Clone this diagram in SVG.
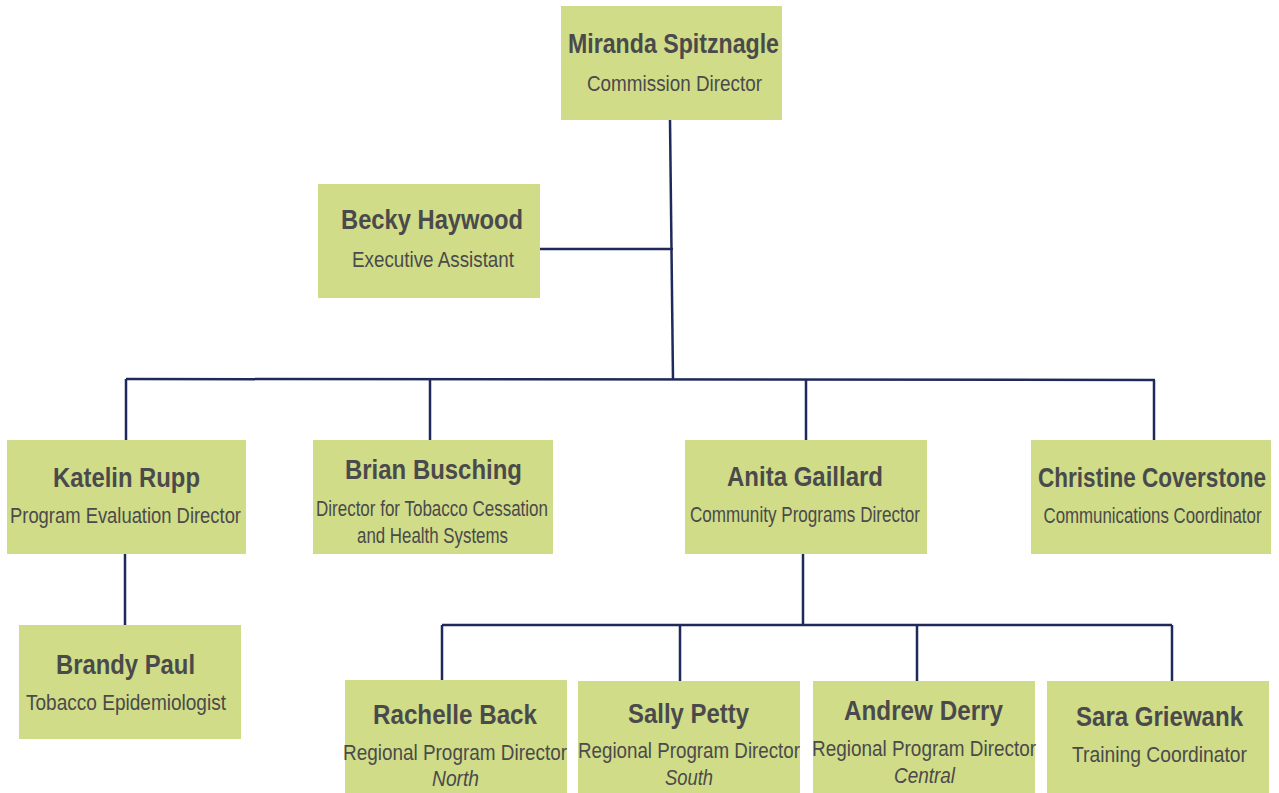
<svg xmlns="http://www.w3.org/2000/svg" width="1279" height="793" viewBox="0 0 1279 793">
<style>
.box{fill:#d0dc87}
.n{font-family:"Liberation Sans",Arial,sans-serif;font-weight:bold;font-size:27px;fill:#4a4a4c;text-anchor:middle}
.t{font-family:"Liberation Sans",Arial,sans-serif;font-size:22px;fill:#4a4a4c;text-anchor:middle}
.i{font-style:italic}
.c{fill:none;stroke:#1f2a5a;stroke-width:2.5}
</style>
<rect width="1279" height="793" fill="#ffffff"/>
<g id="connectors">
<path class="c" d="M670,120 L673,380"/>
<path class="c" d="M540,249 L673,249"/>
<path class="c" d="M126,379 L1155,380"/>
<path class="c" d="M126,379 V440 M430,379 V440 M806,379 V440 M1154,380 V440"/>
<path class="c" d="M125,554 V625"/>
<path class="c" d="M803,554 V625"/>
<path class="c" d="M442,625 H1172"/>
<path class="c" d="M442,625 V680 M680,625 V681 M917,625 V681 M1172,625 V681"/>
</g>
<g id="miranda"><rect class="box" x="561" y="6" width="221" height="114"/>
<text class="n" x="673.5" y="53" textLength="211" lengthAdjust="spacingAndGlyphs">Miranda Spitznagle</text>
<text class="t" x="674.5" y="91" textLength="175" lengthAdjust="spacingAndGlyphs">Commission Director</text></g>
<g id="becky"><rect class="box" x="318" y="184" width="222" height="114"/>
<text class="n" x="432" y="229" textLength="182" lengthAdjust="spacingAndGlyphs">Becky Haywood</text>
<text class="t" x="433" y="267" textLength="162" lengthAdjust="spacingAndGlyphs">Executive Assistant</text></g>
<g id="katelin"><rect class="box" x="7" y="440" width="239" height="114"/>
<text class="n" x="126.5" y="487" textLength="147" lengthAdjust="spacingAndGlyphs">Katelin Rupp</text>
<text class="t" x="125.5" y="523" textLength="231" lengthAdjust="spacingAndGlyphs">Program Evaluation Director</text></g>
<g id="brian"><rect class="box" x="313" y="440" width="240" height="114"/>
<text class="n" x="433.5" y="479" textLength="177" lengthAdjust="spacingAndGlyphs">Brian Busching</text>
<text class="t" x="432" y="516" textLength="232" lengthAdjust="spacingAndGlyphs">Director for Tobacco Cessation</text>
<text class="t" x="432.5" y="543" textLength="151" lengthAdjust="spacingAndGlyphs">and Health Systems</text></g>
<g id="anita"><rect class="box" x="685" y="440" width="242" height="114"/>
<text class="n" x="805" y="486" textLength="156" lengthAdjust="spacingAndGlyphs">Anita Gaillard</text>
<text class="t" x="805" y="522" textLength="230" lengthAdjust="spacingAndGlyphs">Community Programs Director</text></g>
<g id="christine"><rect class="box" x="1031" y="440" width="240" height="114"/>
<text class="n" x="1152" y="487" textLength="228" lengthAdjust="spacingAndGlyphs">Christine Coverstone</text>
<text class="t" x="1152.5" y="523" textLength="218" lengthAdjust="spacingAndGlyphs">Communications Coordinator</text></g>
<g id="brandy"><rect class="box" x="19" y="625" width="222" height="114"/>
<text class="n" x="125.5" y="674" textLength="139" lengthAdjust="spacingAndGlyphs">Brandy Paul</text>
<text class="t" x="126" y="710" textLength="200" lengthAdjust="spacingAndGlyphs">Tobacco Epidemiologist</text></g>
<g id="rachelle"><rect class="box" x="345" y="680" width="222" height="113"/>
<text class="n" x="455" y="724" textLength="164" lengthAdjust="spacingAndGlyphs">Rachelle Back</text>
<text class="t" x="455" y="760" textLength="224" lengthAdjust="spacingAndGlyphs">Regional Program Director</text>
<text class="t i" x="455.5" y="786" textLength="47" lengthAdjust="spacingAndGlyphs">North</text></g>
<g id="sally"><rect class="box" x="578" y="681" width="222" height="112"/>
<text class="n" x="688.5" y="723" textLength="121" lengthAdjust="spacingAndGlyphs">Sally Petty</text>
<text class="t" x="689" y="758" textLength="222" lengthAdjust="spacingAndGlyphs">Regional Program Director</text>
<text class="t i" x="689" y="785" textLength="48" lengthAdjust="spacingAndGlyphs">South</text></g>
<g id="andrew"><rect class="box" x="813" y="681" width="222" height="112"/>
<text class="n" x="923.5" y="720" textLength="159" lengthAdjust="spacingAndGlyphs">Andrew Derry</text>
<text class="t" x="924" y="756" textLength="224" lengthAdjust="spacingAndGlyphs">Regional Program Director</text>
<text class="t i" x="924.5" y="783" textLength="61" lengthAdjust="spacingAndGlyphs">Central</text></g>
<g id="sara"><rect class="box" x="1047" y="681" width="222" height="112"/>
<text class="n" x="1159.5" y="726" textLength="167" lengthAdjust="spacingAndGlyphs">Sara Griewank</text>
<text class="t" x="1159.5" y="762" textLength="175" lengthAdjust="spacingAndGlyphs">Training Coordinator</text></g>
</svg>
